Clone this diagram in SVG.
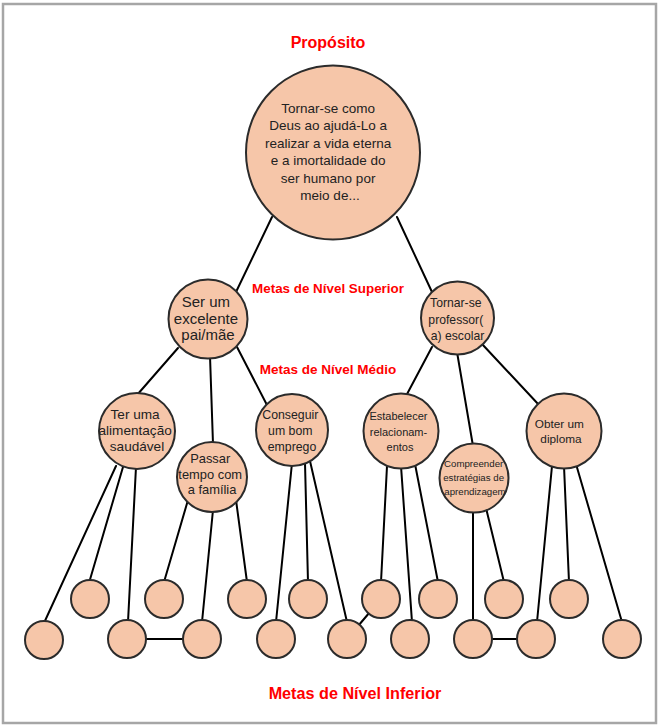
<svg xmlns="http://www.w3.org/2000/svg" width="660" height="727" viewBox="0 0 660 727">
  <style>
    .frame { fill: #ffffff; stroke: #a6a6a6; stroke-width: 2.5; }
    .bubble { fill: #f6c6a9; stroke: #2b2b2b; stroke-width: 2; }
    .link { stroke: #000000; stroke-width: 2; fill: none; stroke-linecap: round; }
    .txt { font-family: "Liberation Sans", Arial, sans-serif; fill: #222222; text-anchor: middle; }
    .level { font-family: "Liberation Sans", Arial, sans-serif; font-weight: bold; fill: #ff0000; text-anchor: middle; }
  </style>

  <!-- page frame -->
  <rect class="frame" x="3" y="4" width="653" height="719"/>

  <!-- level headings -->
  <g id="headings">
    <text class="level" x="328" y="48" font-size="16">Propósito</text>
    <text class="level" x="328" y="293" font-size="13.4">Metas de Nível Superior</text>
    <text class="level" x="328" y="374" font-size="13.5">Metas de Nível Médio</text>
    <text class="level" x="355" y="699" font-size="16.2">Metas de Nível Inferior</text>
  </g>

  <!-- connectors -->
  <g id="connectors">
    <line class="link" x1="272" y1="217" x2="236" y2="292"/>
    <line class="link" x1="397" y1="217" x2="432" y2="292"/>
    <line class="link" x1="178" y1="348" x2="137" y2="395"/>
    <line class="link" x1="210" y1="356" x2="213" y2="444"/>
    <line class="link" x1="237" y1="347" x2="268" y2="407"/>
    <line class="link" x1="432" y1="347" x2="406" y2="396"/>
    <line class="link" x1="457" y1="352" x2="473" y2="446"/>
    <line class="link" x1="482" y1="344" x2="539" y2="405"/>
    <!-- Ter uma alimentação saudável -->
    <line class="link" x1="116" y1="466" x2="44" y2="623"/>
    <line class="link" x1="123" y1="467" x2="89" y2="583"/>
    <line class="link" x1="136" y1="467" x2="128" y2="622"/>
    <!-- Passar tempo com a família -->
    <line class="link" x1="188" y1="500" x2="164" y2="582"/>
    <line class="link" x1="213" y1="510" x2="202" y2="622"/>
    <line class="link" x1="236" y1="500" x2="247" y2="582"/>
    <!-- Conseguir um bom emprego -->
    <line class="link" x1="292" y1="463" x2="276" y2="622"/>
    <line class="link" x1="305" y1="463" x2="308" y2="582"/>
    <line class="link" x1="310" y1="461" x2="347" y2="622"/>
    <!-- Estabelecer relacionamentos -->
    <line class="link" x1="387" y1="466" x2="381" y2="582"/>
    <line class="link" x1="401" y1="466" x2="412" y2="622"/>
    <line class="link" x1="415" y1="464" x2="438" y2="582"/>
    <!-- Compreender estratégias de aprendizagem -->
    <line class="link" x1="473" y1="510" x2="473" y2="622"/>
    <line class="link" x1="486" y1="508" x2="504" y2="582"/>
    <!-- Obter um diploma -->
    <line class="link" x1="552" y1="466" x2="537" y2="622"/>
    <line class="link" x1="564" y1="466" x2="569" y2="582"/>
    <line class="link" x1="576" y1="464" x2="622" y2="622"/>
    <!-- links between lower goals -->
    <line class="link" x1="127" y1="639" x2="202" y2="639"/>
    <line class="link" x1="381" y1="599" x2="347" y2="639"/>
    <line class="link" x1="473" y1="639" x2="536" y2="639"/>
  </g>

  <!-- purpose -->
  <g id="proposito">
    <circle class="bubble" cx="333" cy="152.5" r="87"/>
    <text class="txt" font-size="13.5">
      <tspan x="330" y="112.5">Tornar-se como</tspan>
      <tspan x="330" y="130">Deus ao ajudá-Lo a</tspan>
      <tspan x="330" y="147.5">realizar a vida eterna</tspan>
      <tspan x="330" y="165">e a imortalidade do</tspan>
      <tspan x="330" y="182.5">ser humano por</tspan>
      <tspan x="330" y="200">meio de...</tspan>
    </text>
  </g>

  <!-- upper-level goals -->
  <g id="pai-mae">
    <circle class="bubble" cx="208" cy="319" r="39.5"/>
    <text class="txt" font-size="15">
      <tspan x="208" y="307">Ser um</tspan>
      <tspan x="208" y="323.5">excelente</tspan>
      <tspan x="208" y="340">pai/mãe</tspan>
    </text>
  </g>
  <g id="professor">
    <circle class="bubble" cx="457.5" cy="318" r="36.5"/>
    <text class="txt" font-size="12.2">
      <tspan x="457.5" y="307">Tornar-se</tspan>
      <tspan x="457.5" y="323.5">professor(</tspan>
      <tspan x="457.5" y="340">a) escolar</tspan>
    </text>
  </g>

  <!-- mid-level goals -->
  <g id="alimentacao">
    <circle class="bubble" cx="137" cy="431" r="38"/>
    <text class="txt" font-size="13.6">
      <tspan x="137" y="418.5">Ter uma</tspan>
      <tspan x="137" y="435">alimentação</tspan>
      <tspan x="137" y="451">saudável</tspan>
    </text>
  </g>
  <g id="familia">
    <circle class="bubble" cx="212" cy="477" r="35"/>
    <text class="txt" font-size="12.9">
      <tspan x="212" y="463">Passar</tspan>
      <tspan x="212" y="478.5">tempo com</tspan>
      <tspan x="212" y="494">a família</tspan>
    </text>
  </g>
  <g id="emprego">
    <circle class="bubble" cx="292" cy="430" r="36"/>
    <text class="txt" font-size="12.3">
      <tspan x="292" y="418.5">Conseguir</tspan>
      <tspan x="292" y="435">um bom</tspan>
      <tspan x="292" y="451">emprego</tspan>
    </text>
  </g>
  <g id="relacionamentos">
    <circle class="bubble" cx="401" cy="431" r="37.5"/>
    <text class="txt" font-size="11">
      <tspan x="400" y="420">Estabelecer</tspan>
      <tspan x="400" y="436">relacionam-</tspan>
      <tspan x="400" y="451">entos</tspan>
    </text>
  </g>
  <g id="aprendizagem">
    <circle class="bubble" cx="474" cy="478" r="34.5"/>
    <text class="txt" font-size="9.7">
      <tspan x="475" y="467">Compreender</tspan>
      <tspan x="475" y="481">estratégias de</tspan>
      <tspan x="475" y="494.5">aprendizagem</tspan>
    </text>
  </g>
  <g id="diploma">
    <circle class="bubble" cx="564" cy="431" r="37.5"/>
    <text class="txt" font-size="11.8">
      <tspan x="561" y="427.5">Obter um</tspan>
      <tspan x="561" y="443">diploma</tspan>
    </text>
  </g>

  <!-- lower-level goals -->
  <g id="inferior-1"><circle class="bubble" cx="44" cy="640" r="19"/></g>
  <g id="inferior-2"><circle class="bubble" cx="90" cy="599" r="19"/></g>
  <g id="inferior-3"><circle class="bubble" cx="127" cy="639" r="19"/></g>
  <g id="inferior-4"><circle class="bubble" cx="164" cy="599" r="19"/></g>
  <g id="inferior-5"><circle class="bubble" cx="202" cy="639" r="19"/></g>
  <g id="inferior-6"><circle class="bubble" cx="247" cy="599" r="19"/></g>
  <g id="inferior-7"><circle class="bubble" cx="276" cy="639" r="19"/></g>
  <g id="inferior-8"><circle class="bubble" cx="308" cy="599" r="19"/></g>
  <g id="inferior-9"><circle class="bubble" cx="347" cy="639" r="19"/></g>
  <g id="inferior-10"><circle class="bubble" cx="381" cy="599" r="19"/></g>
  <g id="inferior-11"><circle class="bubble" cx="410" cy="639" r="19"/></g>
  <g id="inferior-12"><circle class="bubble" cx="438" cy="599" r="19"/></g>
  <g id="inferior-13"><circle class="bubble" cx="473" cy="639" r="19"/></g>
  <g id="inferior-14"><circle class="bubble" cx="504" cy="599" r="19"/></g>
  <g id="inferior-15"><circle class="bubble" cx="536" cy="639" r="19"/></g>
  <g id="inferior-16"><circle class="bubble" cx="569" cy="599" r="19"/></g>
  <g id="inferior-17"><circle class="bubble" cx="622" cy="639" r="19"/></g>
</svg>
